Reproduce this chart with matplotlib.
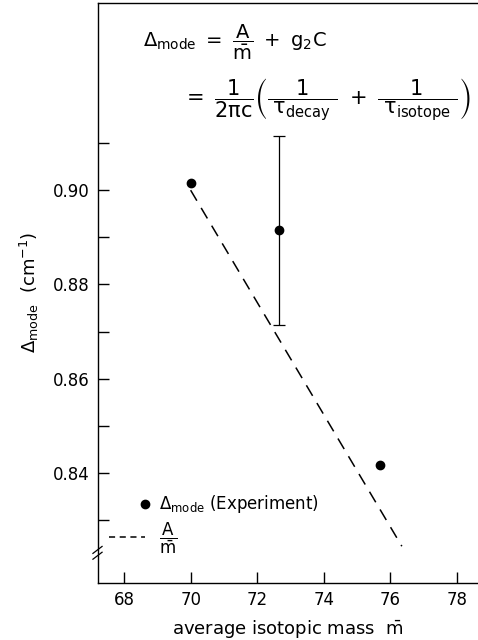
import numpy as np
import matplotlib
matplotlib.use("Agg")
import matplotlib.pyplot as plt
from matplotlib.lines import Line2D
from matplotlib.legend_handler import HandlerLine2D

plt.rcParams['font.family'] = ['DejaVu Sans']
plt.rcParams['mathtext.fontset'] = 'dejavusans'
plt.rcParams['mathtext.default'] = 'regular'

# experimental points
mass = [70.0, 72.67, 75.68]
delta = [0.9015, 0.8915, 0.8417]
delta_err = [0.0, 0.02, 0.0]

# A/m line
fit_mass = [70.0, 76.35]
fit_delta = [0.900, 0.8245]

xticks = [68, 70, 72, 74, 76, 78]
yticks = [0.84, 0.86, 0.88, 0.90]
yminor = [0.83, 0.85, 0.87, 0.89, 0.91]


class RightDot(HandlerLine2D):
    # put the legend dot at the right end of the handle
    def create_artists(self, *args, **kwargs):
        arts = super().create_artists(*args, **kwargs)
        for a in arts:
            a.set_markevery([len(a.get_xdata()) - 1])
        return arts


fig = plt.figure(figsize=(4.78, 6.4), dpi=100)
ax = fig.add_axes([97.5 / 478, 57 / 640, 1 - 97.5 / 478, 580.5 / 640])

ax.plot(fit_mass, fit_delta, color='black', lw=1.1, dashes=(8, 5.5))
ax.plot(mass, delta, 'o', color='black', ms=6)
eb = [i for i, e in enumerate(delta_err) if e > 0]
ax.errorbar([mass[i] for i in eb], [delta[i] for i in eb],
            yerr=[delta_err[i] for i in eb], fmt='none',
            ecolor='black', elinewidth=0.9, capsize=4.5, capthick=0.9)

ax.set_xlim(67.2, 78.64)
ax.set_ylim(0.8167, 0.9398)
ax.set_xticks(xticks)
ax.set_yticks(yticks)
ax.set_yticks(yminor, minor=True)
ax.set_yticklabels(['0.84', '0.86', '0.88', '0.90'])
ax.tick_params(direction='in', length=8, width=1, labelsize=12, pad=6)
ax.tick_params(axis='y', which='minor', direction='in', length=8, width=1)
ax.spines['right'].set_visible(False)
for s in ['left', 'bottom', 'top']:
    ax.spines[s].set_linewidth(1.0)

ax.set_xlabel(r'average isotopic mass  $\bar{m}$', fontsize=13, labelpad=6)
ax.set_ylabel(r'$\Delta_{mode}$  (cm$^{-1}$)', fontsize=13, labelpad=8)

# axis break marks
for dy in (-0.005, 0.005):
    ax.plot([-0.012, 0.012], [0.046 + dy, 0.058 + dy], transform=ax.transAxes,
            color='black', lw=0.9, clip_on=False)

# legend
h_dot = Line2D([0, 1], [0, 0], color='black', ls='none', marker='o', ms=6)
h_line = Line2D([0, 1], [0, 0], color='black', lw=1.1, dashes=(4, 3))
ax.legend([h_dot, h_line],
          [r'$\Delta_{mode}$ (Experiment)', r'$\dfrac{A}{\bar{m}}$'],
          handler_map={h_dot: RightDot(numpoints=1)},
          loc='lower left', bbox_to_anchor=(0.012, 0.035), frameon=False,
          fontsize=12, numpoints=1, handlelength=2.2, handletextpad=0.8,
          labelspacing=0.3, borderaxespad=0.0)

# formula
fig.text(143 / 478, 1 - 42 / 640,
         r'$\Delta_{mode}\ =\ \dfrac{A}{\bar{m}}\ +\ g_2C$',
         fontsize=14, ha='left', va='center')
fig.text(182 / 478, 1 - 100 / 640,
         r'$=\ \dfrac{1}{2\pi c}\left(\dfrac{1}{\;\tau_{decay}\;}\ +\ \dfrac{1}{\;\tau_{isotope}\;}\right)$',
         fontsize=15, ha='left', va='center')

fig.savefig('out.png', dpi=100)
